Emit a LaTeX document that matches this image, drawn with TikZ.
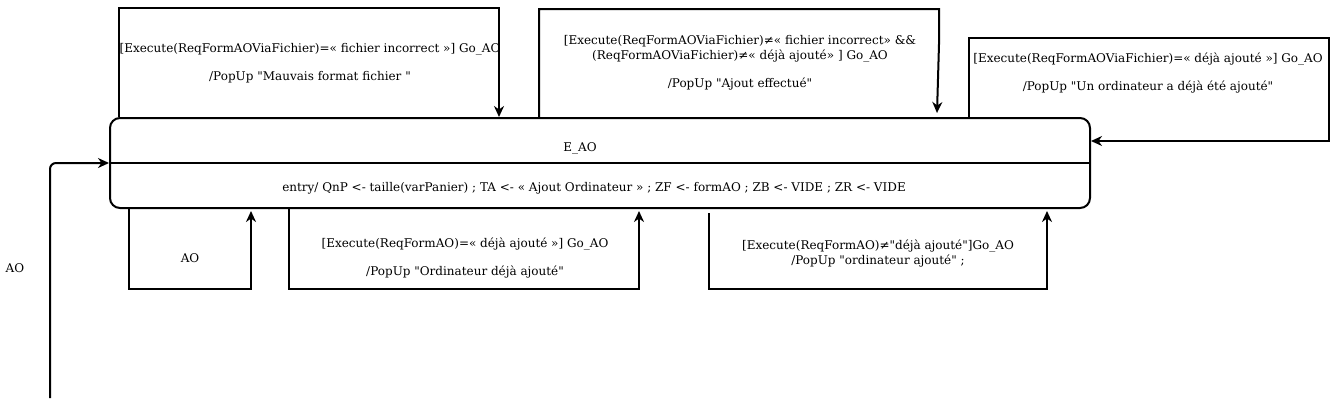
\documentclass[tikz,border=0pt]{standalone}
\usepackage{fontspec}
\setmainfont{DejaVu Serif}[Ligatures=TeXOff]
\usetikzlibrary{arrows.meta}
\begin{document}
\begin{tikzpicture}[x=1pt, y=-1pt, line width=2pt,
  trans/.style={-{Stealth[length=11pt,width=10pt,inset=3.5pt]}},
  lbl/.style={align=center, font=\fontsize{12}{14.5}\selectfont, inner sep=0pt}]
\useasboundingbox (0,0) rectangle (1340,407);

% etat E_AO
\node[draw, rounded corners=10pt, minimum width=980pt, minimum height=90pt, inner sep=0pt] (eao) at (600,163) {};
\draw[line width=1.2pt] (eao.west) -- (eao.east);
\node[lbl] (titre) at (580,148) {E\_AO};
\node[lbl] (entree) at (594,188) {entry/ QnP <- taille(varPanier) ; TA <- « Ajout Ordinateur » ; ZF <- formAO ; ZB <- VIDE ; ZR <- VIDE};

% transition initiale
\coordinate (init) at (50,398);
\draw[trans, rounded corners=6pt] (init) |- (eao.west);
\node[lbl] (tinit) at (15,268) {AO};

% boucles du haut
\draw[trans] ([xshift=10pt]eao.north west) -- ++(0,-109) -| ([xshift=390pt]eao.north west);
\node[lbl] (t1) at (310,63) {[Execute(ReqFormAOViaFichier)=« fichier incorrect »] Go\_AO\\[14pt]/PopUp "Mauvais format fichier "};
\draw[trans] ([xshift=430pt]eao.north west) -- ++(0,-108) -- ++(400,0) -- ++(0,35) -- ([xshift=828pt,yshift=4pt]eao.north west);
\node[lbl] (t2) at (740,63) {[Execute(ReqFormAOViaFichier)≠« fichier incorrect» \&\&\\(ReqFormAOViaFichier)≠« déjà ajouté» ] Go\_AO\\[14pt]/PopUp "Ajout effectué"};
\draw[trans] ([xshift=860pt]eao.north west) -- ++(0,-79) -- ++(360,0) |- ([yshift=22pt]eao.east);
\node[lbl] (t3) at (1148,73) {[Execute(ReqFormAOViaFichier)=« déjà ajouté »] Go\_AO\\[14pt]/PopUp "Un ordinateur a déjà été ajouté"};

% boucles du bas
\draw[trans] ([xshift=20pt]eao.south west) -- ++(0,80) -| ([xshift=142pt,yshift=-2pt]eao.south west);
\node[lbl] (t4) at (190,258) {AO};
\draw[trans] ([xshift=180pt]eao.south west) -- ++(0,80) -| ([xshift=530pt,yshift=-2pt]eao.south west);
\node[lbl] (t5) at (465,258) {[Execute(ReqFormAO)=« déjà ajouté »] Go\_AO\\[14pt]/PopUp "Ordinateur déjà ajouté"};
\draw[trans] ([xshift=600pt,yshift=-4pt]eao.south west) -- ++(0,76) -| ([xshift=938pt,yshift=-2pt]eao.south west);
\node[lbl] (t6) at (878,253.5) {[Execute(ReqFormAO)≠"déjà ajouté"]Go\_AO\\/PopUp "ordinateur ajouté" ;};
\end{tikzpicture}
\end{document}
